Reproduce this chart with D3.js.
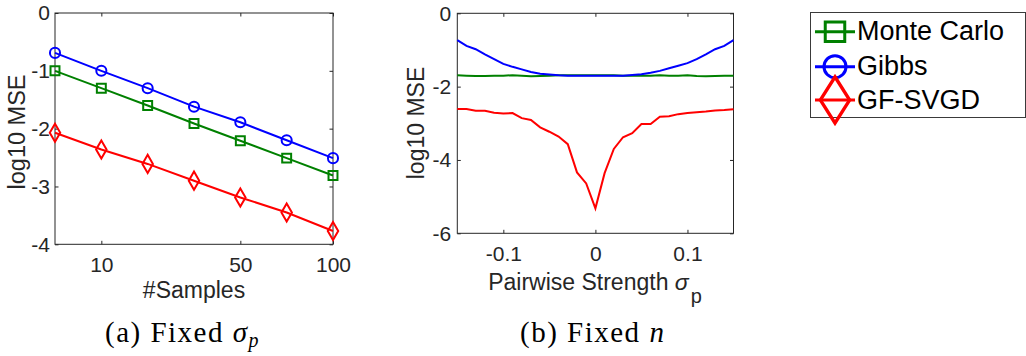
<!DOCTYPE html>
<html>
<head>
<meta charset="utf-8">
<script src="https://cdn.jsdelivr.net/npm/d3@7"></script>
<style>
  html, body { margin: 0; padding: 0; background: #fff; }
  svg { display: block; }
  text { font-family: "Liberation Sans", Arial, Helvetica, sans-serif; fill: #262626; }
  .cap { font-family: "Liberation Serif", "DejaVu Serif", serif; fill: #000; letter-spacing: 1.5px; }
</style>
</head>
<body>
<svg id="chart" width="1026" height="356"></svg>
<script>
// ---------- data ----------
const seriesNames = ["Monte Carlo", "Gibbs", "GF-SVGD"];
const seriesColors = ["#008000", "#0000ff", "#ff0000"];
const seriesMarkers = ["square", "circle", "diamond"];

// (a) fixed sigma_p : x = #samples (plotted by index)
const nSamples = [5, 10, 20, 30, 50, 70, 100];
const sampleTickLabels = [10, 50, 100];
const mcVsN     = [-1.00, -1.30, -1.60, -1.91, -2.21, -2.51, -2.81];
const gibbsVsN  = [-0.69, -1.00, -1.30, -1.62, -1.89, -2.20, -2.51];
const svgdVsN   = [-2.07, -2.36, -2.61, -2.90, -3.19, -3.45, -3.77];
const yTicksA = [0, -1, -2, -3, -4];

// (b) fixed n : x = pairwise strength sigma_p
const sigmaP = [-0.15,-0.14,-0.13,-0.12,-0.11,-0.10,-0.09,-0.08,-0.07,-0.06,-0.05,-0.04,-0.03,-0.02,-0.01,0,
                0.01,0.02,0.03,0.04,0.05,0.06,0.07,0.08,0.09,0.10,0.11,0.12,0.13,0.14,0.15];
const mcVsSigma = [-1.69,-1.70,-1.71,-1.71,-1.70,-1.70,-1.69,-1.70,-1.72,-1.71,-1.70,-1.69,-1.69,-1.69,-1.69,-1.69,
                   -1.69,-1.69,-1.70,-1.70,-1.70,-1.70,-1.69,-1.70,-1.70,-1.69,-1.71,-1.72,-1.71,-1.70,-1.70];
const gibbsVsSigma = [-0.73,-0.89,-0.98,-1.12,-1.25,-1.38,-1.46,-1.53,-1.60,-1.65,-1.67,-1.69,-1.70,-1.70,-1.70,-1.70,
                      -1.70,-1.70,-1.70,-1.68,-1.66,-1.62,-1.57,-1.50,-1.43,-1.36,-1.25,-1.12,-0.98,-0.89,-0.73];
const svgdVsSigma = [-2.61,-2.61,-2.66,-2.66,-2.71,-2.73,-2.72,-2.86,-2.91,-3.11,-3.23,-3.36,-3.57,-4.34,-4.64,-5.32,
                     -4.36,-3.70,-3.38,-3.27,-3.02,-3.02,-2.82,-2.81,-2.75,-2.72,-2.70,-2.68,-2.65,-2.64,-2.62];
const xTicksB = [-0.1, 0, 0.1];
const yTicksB = [0, -2, -4, -6];

// ---------- drawing ----------
const svg = d3.select("#chart");
const axisColor = "#262626";
const tickFont = 21, labelFont = 23;

function symbolFor(type, size) {
  const t = type === "square" ? d3.symbolSquare : type === "circle" ? d3.symbolCircle : d3.symbolDiamond;
  return d3.symbol().type(t).size(size)();
}

function frame(g, x0, x1, y0, y1) {
  g.append("rect").attr("x", x0).attr("y", y0).attr("width", x1 - x0).attr("height", y1 - y0)
    .attr("fill", "none").attr("stroke", axisColor).attr("stroke-width", 1);
}

function styleAxis(sel) {
  sel.select(".domain").remove();
  sel.selectAll(".tick line").attr("stroke", axisColor);
  sel.selectAll(".tick text").attr("fill", axisColor).style("font-size", tickFont + "px")
     .style("font-family", '"Liberation Sans", Arial, sans-serif');
}

// ===== Panel (a) =====
const xA = d3.scalePoint().domain(nSamples).range([55, 333]);
const yA = d3.scaleLinear().domain([-4, 0]).range([244.3, 13]);
const gA = svg.append("g");

gA.append("g").attr("transform", "translate(0,244.3)")
  .call(d3.axisBottom(xA).tickValues(sampleTickLabels).tickSize(-3.5).tickPadding(13))
  .call(styleAxis);
gA.append("g").attr("transform", "translate(0,13)")
  .call(d3.axisTop(xA).tickValues(sampleTickLabels).tickSize(-3.5).tickFormat(""))
  .call(styleAxis);
gA.append("g").attr("transform", "translate(55,0)")
  .call(d3.axisLeft(yA).tickValues(yTicksA).tickSize(-3.5).tickPadding(5).tickFormat(d3.format("d")))
  .call(styleAxis);
gA.append("g").attr("transform", "translate(333,0)")
  .call(d3.axisRight(yA).tickValues(yTicksA).tickSize(-3.5).tickFormat(""))
  .call(styleAxis);
gA.selectAll(".tick text").text(function(){ return d3.select(this).text().replace("−", "-"); });
frame(gA, 55, 333, 13, 244.3);

const dataA = [mcVsN, gibbsVsN, svgdVsN];
const markerSizeA = [80, 80, 95];
dataA.forEach((vals, i) => {
  const line = d3.line().x((d, j) => xA(nSamples[j])).y(d => yA(d));
  gA.append("path").attr("d", line(vals)).attr("fill", "none")
    .attr("stroke", seriesColors[i]).attr("stroke-width", 2);
  gA.selectAll(null).data(vals).enter().append("path")
    .attr("d", symbolFor(seriesMarkers[i], markerSizeA[i]))
    .attr("transform", (d, j) => `translate(${xA(nSamples[j])},${yA(d)})`)
    .attr("fill", "none").attr("stroke", seriesColors[i]).attr("stroke-width", 2);
});

gA.append("text").attr("x", 194).attr("y", 298).attr("text-anchor", "middle")
  .style("font-size", labelFont + "px").text("#Samples");
gA.append("text").attr("transform", "translate(25,132) rotate(-90)").attr("text-anchor", "middle")
  .style("font-size", "23.5px").text("log10 MSE");

// ===== Panel (b) =====
const xB = d3.scaleLinear().domain([-0.15, 0.15]).range([457.3, 733.5]);
const yB = d3.scaleLinear().domain([-6, 0]).range([233.3, 13.3]);
const gB = svg.append("g");

gB.append("g").attr("transform", "translate(0,233.3)")
  .call(d3.axisBottom(xB).tickValues(xTicksB).tickSize(-3.5).tickPadding(13).tickFormat(d => d === 0 ? "0" : d3.format(".1f")(d)))
  .call(styleAxis);
gB.append("g").attr("transform", "translate(0,13.3)")
  .call(d3.axisTop(xB).tickValues(xTicksB).tickSize(-3.5).tickFormat(""))
  .call(styleAxis);
gB.append("g").attr("transform", "translate(457.3,0)")
  .call(d3.axisLeft(yB).tickValues(yTicksB).tickSize(-3.5).tickPadding(6).tickFormat(d3.format("d")))
  .call(styleAxis);
gB.append("g").attr("transform", "translate(733.5,0)")
  .call(d3.axisRight(yB).tickValues(yTicksB).tickSize(-3.5).tickFormat(""))
  .call(styleAxis);
gB.selectAll(".tick text").text(function(){ return d3.select(this).text().replace("−", "-"); });
frame(gB, 457.3, 733.5, 13.3, 233.3);

const dataB = [mcVsSigma, gibbsVsSigma, svgdVsSigma];
dataB.forEach((vals, i) => {
  const line = d3.line().x((d, j) => xB(sigmaP[j])).y(d => yB(d));
  gB.append("path").attr("d", line(vals)).attr("fill", "none")
    .attr("stroke", seriesColors[i]).attr("stroke-width", 2);
});

const xl = gB.append("text").attr("x", 595).attr("y", 290).attr("text-anchor", "middle")
  .style("font-size", labelFont + "px");
xl.append("tspan").text("Pairwise Strength ");
xl.append("tspan").style("font-style", "italic").text("σ");
xl.append("tspan").attr("dy", 13).attr("dx", 2).style("font-size", "20px").text("p");

gB.append("text").attr("transform", "translate(424,123) rotate(-90)").attr("text-anchor", "middle")
  .style("font-size", labelFont + "px").text("log10 MSE");

// ===== Legend =====
const gL = svg.append("g");
gL.append("rect").attr("x", 810.5).attr("y", 12.5).attr("width", 215).attr("height", 105)
  .attr("fill", "#fff").attr("stroke", "#3a3a3a").attr("stroke-width", 1);
const legendRowY = [31.7, 66.7, 100];
const legendMarkerSize = [380, 380, 560];
seriesNames.forEach((name, i) => {
  const y = legendRowY[i];
  gL.append("line").attr("x1", 815).attr("x2", 855).attr("y1", y).attr("y2", y)
    .attr("stroke", seriesColors[i]).attr("stroke-width", 3);
  const m = gL.append("path").attr("d", symbolFor(seriesMarkers[i], legendMarkerSize[i]))
    .attr("fill", "none").attr("stroke", seriesColors[i]).attr("stroke-width", 3);
  if (seriesMarkers[i] === "diamond") m.attr("transform", `translate(835,${y}) scale(1.15,1.05)`);
  else m.attr("transform", `translate(835,${y})`);
  gL.append("text").attr("x", 857).attr("y", y + 8.5).style("font-size", "27px").style("fill", "#000")
    .text(name);
});

// ===== Captions =====
const capA = svg.append("text").attr("class", "cap").attr("x", 105).attr("y", 342).style("font-size", "29px");
capA.append("tspan").text("(a) Fixed ");
capA.append("tspan").style("font-style", "italic").text("σ");
capA.append("tspan").attr("dy", 5).style("font-style", "italic").style("font-size", "20px").text("p");

const capB = svg.append("text").attr("class", "cap").attr("x", 520).attr("y", 342).style("font-size", "29px");
capB.append("tspan").text("(b) Fixed ");
capB.append("tspan").style("font-style", "italic").text("n");
</script>
</body>
</html>
